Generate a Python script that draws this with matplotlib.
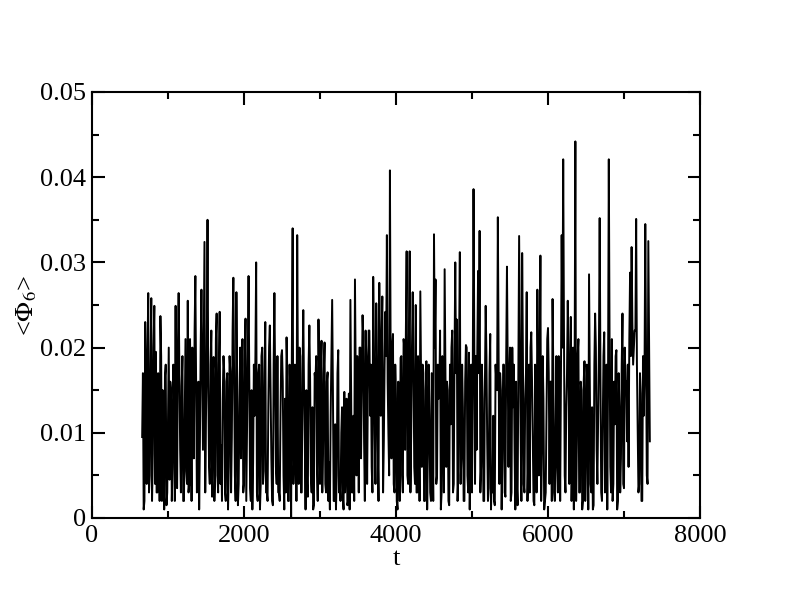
import numpy as np
import matplotlib
matplotlib.use("Agg")
import matplotlib.pyplot as plt
from matplotlib.ticker import MultipleLocator

# time grid of the series (start, step)
t_start = 660
t_step = 10

# <Phi_6> values (units of 1e-3), at t = 660, 680, 700, ...
phi6_even_milli = [
    9.5, 1.0, 23.0, 4.0, 26.4, 5.0, 25.8, 7.5, 24.9, 19.5,
    3.0, 14.0, 23.7, 2.0, 12.5, 16.6, 1.5, 11.0, 4.5, 15.0,
    6.0, 13.5, 24.9, 3.5, 26.4, 8.0, 15.5, 2.0, 12.0, 5.5,
    25.5, 4.0, 13.0, 20.0, 7.0, 28.4, 3.0, 16.0, 9.0, 26.8,
    8.0, 32.4, 12.0, 35.0, 6.0, 18.0, 2.5, 18.9, 5.0, 24.0,
    3.0, 24.2, 8.5, 14.0, 17.1, 2.0, 17.0, 6.0, 17.2, 9.5,
    28.2, 5.0, 26.5, 1.5, 13.5, 7.0, 21.0, 4.0, 23.4, 10.0,
    28.4, 3.5, 15.0, 6.5, 12.0, 30.0, 2.0, 18.0, 4.0, 20.0,
    5.5, 23.0, 3.0, 13.0, 22.6, 7.0, 1.5, 26.4, 6.0, 19.0,
    3.0, 12.0, 19.7, 5.0, 14.0, 21.2, 2.0, 18.0, 0.0, 34.0,
    7.0, 14.0, 33.2, 4.0, 19.0, 3.0, 24.4, 9.0, 15.0, 2.5,
    22.6, 5.0, 13.0, 1.5, 16.0, 6.0, 23.3, 4.0, 20.8, 8.0,
    20.6, 3.0, 17.1, 6.5, 12.0, 25.6, 2.0, 11.0, 5.0, 19.7,
    4.0, 10.0, 2.5, 14.8, 6.0, 1.5, 14.6, 25.6, 3.0, 12.0,
    28.0, 5.0, 15.0, 20.0, 7.0, 23.8, 9.0, 22.0, 4.0, 22.0,
    12.0, 6.0, 28.3, 10.0, 25.2, 8.0, 27.6, 12.0, 26.0, 9.0,
    24.2, 33.2, 10.0, 40.8, 7.0, 21.6, 3.0, 14.0, 1.0, 11.0,
    18.8, 5.0, 21.0, 8.0, 31.3, 4.0, 31.3, 10.0, 26.5, 6.0,
    25.0, 3.0, 13.0, 26.6, 6.0, 15.0, 2.0, 18.4, 8.0, 12.0,
    2.0, 10.0, 33.3, 28.0, 5.0, 14.0, 22.0, 3.0, 12.0, 29.2,
    6.0, 15.0, 1.5, 11.0, 22.0, 4.0, 30.0, 23.3, 5.0, 31.2,
    7.0, 13.0, 2.0, 20.3, 5.0, 19.4, 8.0, 3.0, 38.6, 4.0,
    8.0, 29.0, 33.7, 6.0, 14.0, 2.0, 24.9, 9.0, 3.5, 21.6,
    5.0, 12.0, 1.5, 16.0, 35.3, 4.0, 15.0, 7.0, 18.0, 2.5,
    29.5, 6.0, 20.0, 3.0, 13.0, 8.0, 16.0, 1.5, 33.1, 10.0,
    31.1, 4.0, 14.0, 26.5, 7.0, 3.0, 21.8, 9.0, 1.5, 15.0,
    26.8, 5.0, 30.8, 8.0, 14.0, 2.0, 12.0, 22.3, 4.0, 16.0,
    25.7, 3.0, 11.0, 6.0, 19.0, 2.0, 33.2, 42.1, 5.0, 13.0,
    25.5, 4.0, 23.6, 7.0, 1.0, 44.2, 9.0, 21.0, 3.0, 15.0,
    2.0, 18.4, 6.0, 17.0, 28.6, 4.0, 13.0, 1.5, 24.0, 8.0,
    12.0, 35.2, 3.0, 10.0, 21.8, 5.0, 1.0, 42.1, 6.0, 21.0,
    4.0, 11.0, 19.7, 2.0, 13.0, 7.0, 24.0, 3.5, 16.0, 9.0,
    6.0, 28.8, 31.8, 18.0, 22.0, 35.1, 10.0, 4.0, 14.6, 2.0,
    12.0, 34.5, 5.0, 32.5, 9.0,
]

# values in between, at t = 670, 690, 710, ... (units of 1e-3)
phi6_odd_milli = [
    17, 2, 16, 19, 3, 18, 2, 20, 4, 3,
    17, 2, 19, 15, 1, 18, 3, 20, 16, 2,
    18, 2, 4, 20, 17, 3, 19, 2, 21, 4,
    3, 21, 2, 17, 22, 15, 4, 1, 20, 18,
    21, 3, 19, 16, 4, 22, 17, 2, 21, 5,
    18, 4, 2, 19, 3, 16, 1, 19, 3, 22,
    17, 2, 16, 4, 20, 15, 3, 18, 2, 19,
    16, 2, 1, 18, 19, 3, 17, 1, 19, 4,
    17, 3, 2, 20, 15, 2, 18, 16, 4, 3,
    2, 19, 16, 1, 3, 17, 2, 15, 20, 4,
    18, 2, 16, 20, 3, 17, 15, 1, 4, 18,
    16, 3, 1, 17, 19, 2, 15, 18, 3, 17,
    4, 16, 2, 1, 19, 15, 2, 1, 17, 3,
    2, 13, 1, 3, 14, 2, 1, 15, 3, 2,
    17, 19, 3, 20, 16, 21, 2, 19, 15, 22,
    18, 3, 20, 4, 19, 2, 17, 21, 3, 18,
    19, 16, 5, 18, 20, 4, 18, 2, 16, 2,
    19, 3, 20, 22, 5, 21, 3, 20, 18, 4,
    3, 19, 2, 16, 18, 2, 17, 1, 18, 3,
    17, 2, 20, 4, 18, 15, 1, 19, 3, 17,
    16, 2, 18, 20, 3, 19, 17, 2, 20, 4,
    18, 2, 16, 20, 3, 1, 18, 17, 21, 19,
    20, 17, 3, 18, 2, 16, 19, 2, 17, 1,
    3, 2, 18, 15, 20, 17, 1, 18, 3, 19,
    17, 16, 2, 20, 18, 1, 4, 18, 21, 2,
    19, 3, 17, 2, 18, 20, 16, 2, 18, 3,
    18, 16, 2, 19, 1, 3, 21, 17, 16, 2,
    17, 2, 19, 3, 18, 16, 20, 22, 3, 17,
    18, 16, 2, 20, 17, 2, 19, 3, 16, 1,
    16, 2, 18, 1, 17, 3, 1, 18, 20, 4,
    20, 17, 2, 19, 3, 18, 16, 21, 3, 2,
    16, 19, 1, 17, 3, 18, 4, 20, 16, 18,
    21, 19, 23, 20, 22, 18, 3, 17, 2, 19,
    17, 20, 4, 21,
]

x_ticks = [0, 2000, 4000, 6000, 8000]
y_ticks = [0, 0.01, 0.02, 0.03, 0.04, 0.05]
y_tick_labels = ["0", "0.01", "0.02", "0.03", "0.04", "0.05"]

# interleave the two reading grids into one series
n_even = len(phi6_even_milli)
phi6 = np.empty(n_even + len(phi6_odd_milli))
phi6[0::2] = phi6_even_milli
phi6[1::2] = phi6_odd_milli
phi6 = phi6 / 1000.0
t = t_start + t_step * np.arange(len(phi6))

plt.rcParams['font.family'] = ['Liberation Serif', 'DejaVu Serif']
plt.rcParams['mathtext.fontset'] = 'stix'

fig = plt.figure(figsize=(7.92, 6.09), dpi=100)
ax = fig.add_axes([92/792, 1 - 518/609, (700-92)/792, (518-92)/609])

ax.plot(t, phi6, color='black', linewidth=1.4)

ax.set_xlim(0, 8000)
ax.set_ylim(0, 0.05)
ax.set_xticks(x_ticks)
ax.set_xticklabels([str(v) for v in x_ticks])
ax.set_yticks(y_ticks)
ax.set_yticklabels(y_tick_labels)
ax.xaxis.set_minor_locator(MultipleLocator(1000))
ax.yaxis.set_minor_locator(MultipleLocator(0.005))

ax.tick_params(which='both', direction='in', top=True, right=True,
               labelsize=19, width=1.5)
ax.tick_params(axis='x', which='major', pad=5)
ax.tick_params(axis='y', which='major', pad=4)
ax.tick_params(which='major', length=9)
ax.tick_params(which='minor', length=5)
for s in ax.spines.values():
    s.set_linewidth(1.5)

ax.set_xlabel('t', fontsize=19, labelpad=1)
ax.set_ylabel(r'<$\Phi_{\mathit{6}}$>', fontsize=19, labelpad=1)

fig.savefig('out.png', dpi=100)
